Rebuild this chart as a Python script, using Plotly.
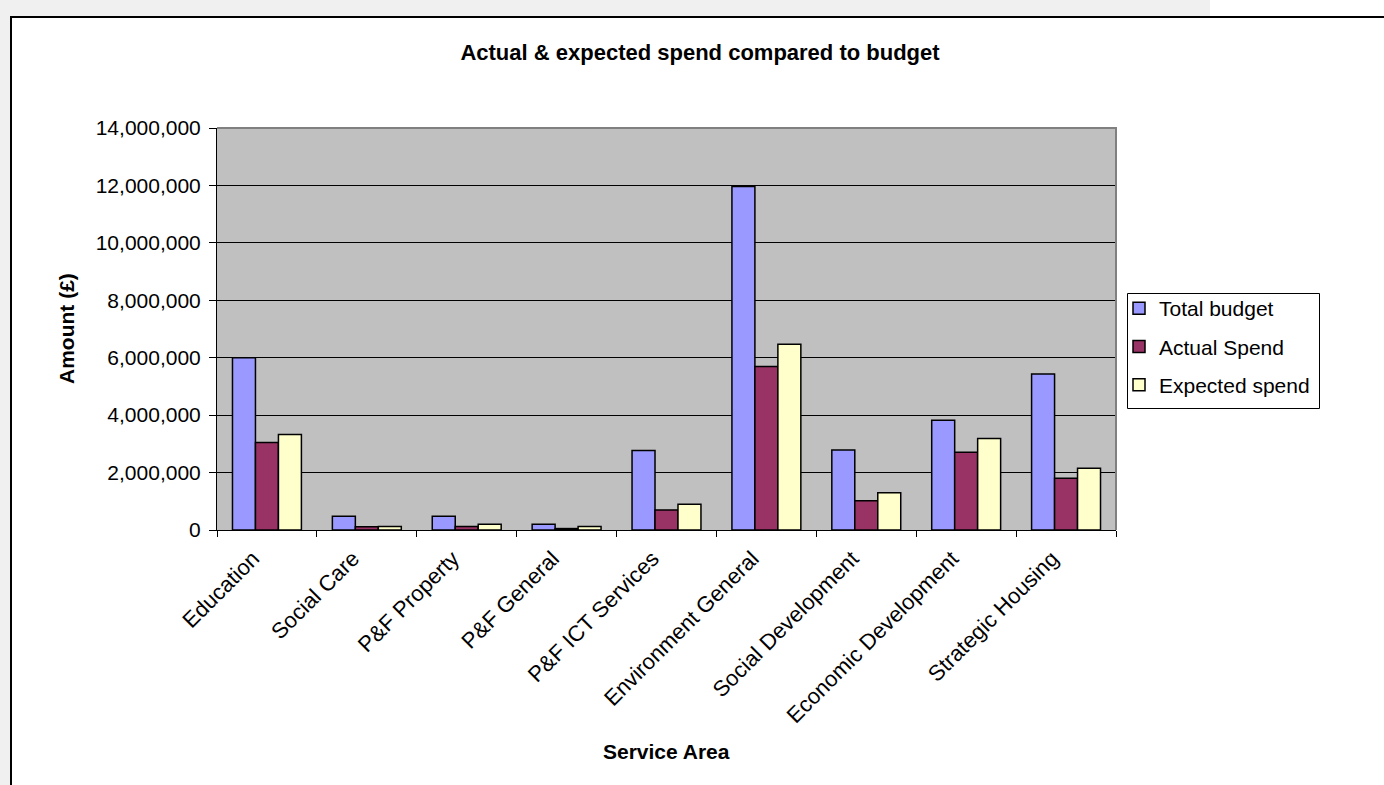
import plotly.graph_objects as go

# ---- data ----
categories = ["Education", "Social Care", "P&F Property", "P&F General", "P&F ICT Services",
              "Environment General", "Social Development", "Economic Development", "Strategic Housing"]
total_budget = [6000000, 480000, 480000, 200000, 2770000, 11960000, 2790000, 3820000, 5430000]
actual_spend = [3050000, 110000, 120000, 50000, 700000, 5690000, 1020000, 2710000, 1800000]
expected_spend = [3330000, 120000, 200000, 120000, 900000, 6470000, 1300000, 3190000, 2150000]
series_names = ["Total budget", "Actual Spend", "Expected spend"]

# ---- layout geometry (pixels) ----
W, H = 1384, 785
L, R, T, B = 217, 1116, 128, 530
FONT = "Arial, Liberation Sans, sans-serif"


def px(x):
    return (x - L) / (R - L)


def py(y):
    return (B - y) / (B - T)


colors = ["#9999FF", "#993366", "#FFFFCC"]
fig = go.Figure()
for name, vals, col in zip(series_names, [total_budget, actual_spend, expected_spend], colors):
    fig.add_trace(go.Bar(x=categories, y=vals, name=name, legendgroup=name,
                         marker=dict(color=col, line=dict(color="black", width=1.5))))

band_path = (f"M {px(0)},{py(0)} L {px(1210)},{py(0)} L {px(1210)},{py(16)} "
             f"L {px(10)},{py(16)} L {px(10)},{py(785)} L {px(0)},{py(785)} Z")

shapes = [
    # light gray page background band on top and left
    dict(type="path", xref="paper", yref="paper", path=band_path,
         fillcolor="#F0F0F0", line=dict(width=0), layer="below"),
    # chart frame
    dict(type="rect", xref="paper", yref="paper", x0=px(11), x1=px(1400), y0=py(800), y1=py(17),
         fillcolor="rgba(0,0,0,0)", line=dict(color="black", width=2), layer="below"),
    # plot area border top & right
    dict(type="path", xref="paper", yref="paper", path="M 0,1 L 1,1 L 1,0",
         line=dict(color="#808080", width=2)),
    # legend box
    dict(type="rect", xref="paper", yref="paper", x0=px(1127.5), x1=px(1319.5), y0=py(408.5), y1=py(293.5),
         fillcolor="white", line=dict(color="black", width=1)),
]

annotations = [
    dict(text="<b>Amount (£)</b>", xref="paper", yref="paper", x=px(66), y=0.5,
         textangle=-90, showarrow=False, font=dict(size=21, family=FONT, color="black"),
         xanchor="center", yanchor="middle"),
    dict(text="<b>Service Area</b>", xref="paper", yref="paper", x=0.5, y=py(751),
         showarrow=False, font=dict(size=21, family=FONT, color="black"),
         xanchor="center", yanchor="middle"),
]

fig.update_layout(
    width=W, height=H,
    margin=dict(l=L, r=W - R, t=T, b=H - B, pad=0),
    paper_bgcolor="white",
    plot_bgcolor="#C0C0C0",
    font=dict(family=FONT, size=20, color="black"),
    title=dict(text="<b>Actual & expected spend compared to budget</b>",
               xref="paper", x=px(700), xanchor="center",
               yref="container", y=1 - 52 / H, yanchor="middle",
               font=dict(size=22, family=FONT, color="black")),
    barmode="group", bargap=0.31, bargroupgap=0,
    showlegend=True,
    legend=dict(x=px(1119), xanchor="left", y=py(288), yanchor="top",
                borderwidth=0, bgcolor="rgba(0,0,0,0)",
                font=dict(size=21, family=FONT, color="black"),
                traceorder="grouped", tracegroupgap=8),
    shapes=shapes,
    annotations=annotations,
)

fig.update_xaxes(showline=True, linecolor="black", linewidth=1,
                 ticks="outside", ticklen=6, tickcolor="black", tickson="boundaries",
                 tickangle=-45, showgrid=False, ticklabelshift=-14, ticklabelstandoff=6,
                 tickfont=dict(size=22, family=FONT, color="black"))
fig.update_yaxes(range=[0, 14000000], dtick=2000000, tickformat=",d",
                 showline=True, linecolor="black", linewidth=1,
                 ticks="outside", ticklen=7, tickcolor="black", ticklabelstandoff=4,
                 showgrid=True, gridcolor="black", gridwidth=1,
                 zeroline=True, zerolinecolor="black", zerolinewidth=1,
                 tickfont=dict(size=21, family=FONT, color="black"))

fig.write_html("out.html", config={"displayModeBar": False},
               post_script="document.body.style.margin='0px';")
